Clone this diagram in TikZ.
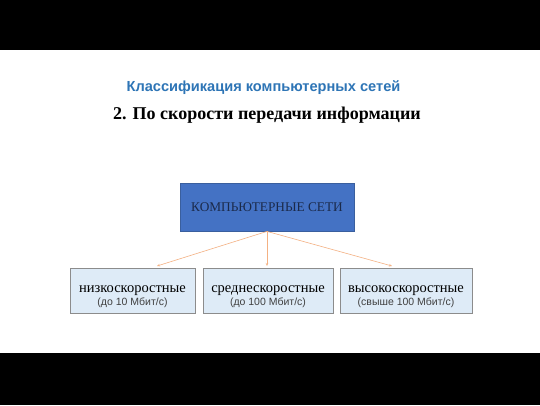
\documentclass[tikz,border=0pt]{standalone}
\usepackage{fontspec}
\setmainfont{Liberation Serif}
\setsansfont{Liberation Sans}
\usetikzlibrary{arrows.meta}
\definecolor{titleblue}{HTML}{2E75B6}
\definecolor{mainfill}{HTML}{4472C4}
\definecolor{maindraw}{HTML}{3A5F9E}
\definecolor{maintext}{HTML}{1B2A4A}
\definecolor{childfill}{HTML}{DEEBF7}
\definecolor{childdraw}{HTML}{8C8C8C}
\definecolor{arrowcol}{HTML}{F4B183}
\definecolor{subtext}{HTML}{404040}
\newcommand{\childtext}[2]{\rule{0pt}{19pt}{\fontsize{14.5}{16}\selectfont #1}\\[1.5pt]{\sffamily\fontsize{10.5}{12}\selectfont\color{subtext}#2}}
\tikzset{
  mainbox/.style={draw=maindraw, fill=mainfill, line width=0.8pt, minimum width=174pt, minimum height=48pt, inner sep=0pt, text=maintext, font=\fontsize{13.3}{15}\selectfont},
  childbox/.style={draw=childdraw, fill=childfill, line width=0.8pt, minimum height=45pt, inner sep=0pt, align=center},
  conn/.style={draw=arrowcol, line width=0.6pt, -{Stealth[length=3pt,width=2.5pt]}},
}
\begin{document}
\begin{tikzpicture}[x=1pt,y=-1pt]
\useasboundingbox (0,0) rectangle (540,405);
\fill[white] (0,0) rectangle (540,405);
\fill[black] (0,0) rectangle (540,50);
\fill[black] (0,353) rectangle (540,405);
\node[text=titleblue, font=\sffamily\bfseries\fontsize{14.6}{16}\selectfont] (title) at (263.5,88) {Классификация компьютерных сетей};
\node[font=\bfseries\fontsize{18}{20}\selectfont] (sub) at (267,115) {2. По скорости передачи информации};
\node[mainbox] (main) at (267,207) {КОМПЬЮТЕРНЫЕ СЕТИ};
\node[childbox, minimum width=125pt] (low) at (132.5,290.5) {\childtext{низкоскоростные}{(до 10 Мбит/с)}};
\node[childbox, minimum width=130pt] (mid) at (268,290.5) {\childtext{среднескоростные}{(до 100 Мбит/с)}};
\node[childbox, minimum width=132pt] (high) at (406,290.5) {\childtext{высокоскоростные}{(свыше 100 Мбит/с)}};
\coordinate (lowtip) at (157,266);
\coordinate (midtip) at (267,266);
\coordinate (hightip) at (392,266);
\draw[conn] (main.south) -- (lowtip);
\draw[conn] (main.south) -- (midtip);
\draw[conn] (main.south) -- (hightip);
\end{tikzpicture}
\end{document}
